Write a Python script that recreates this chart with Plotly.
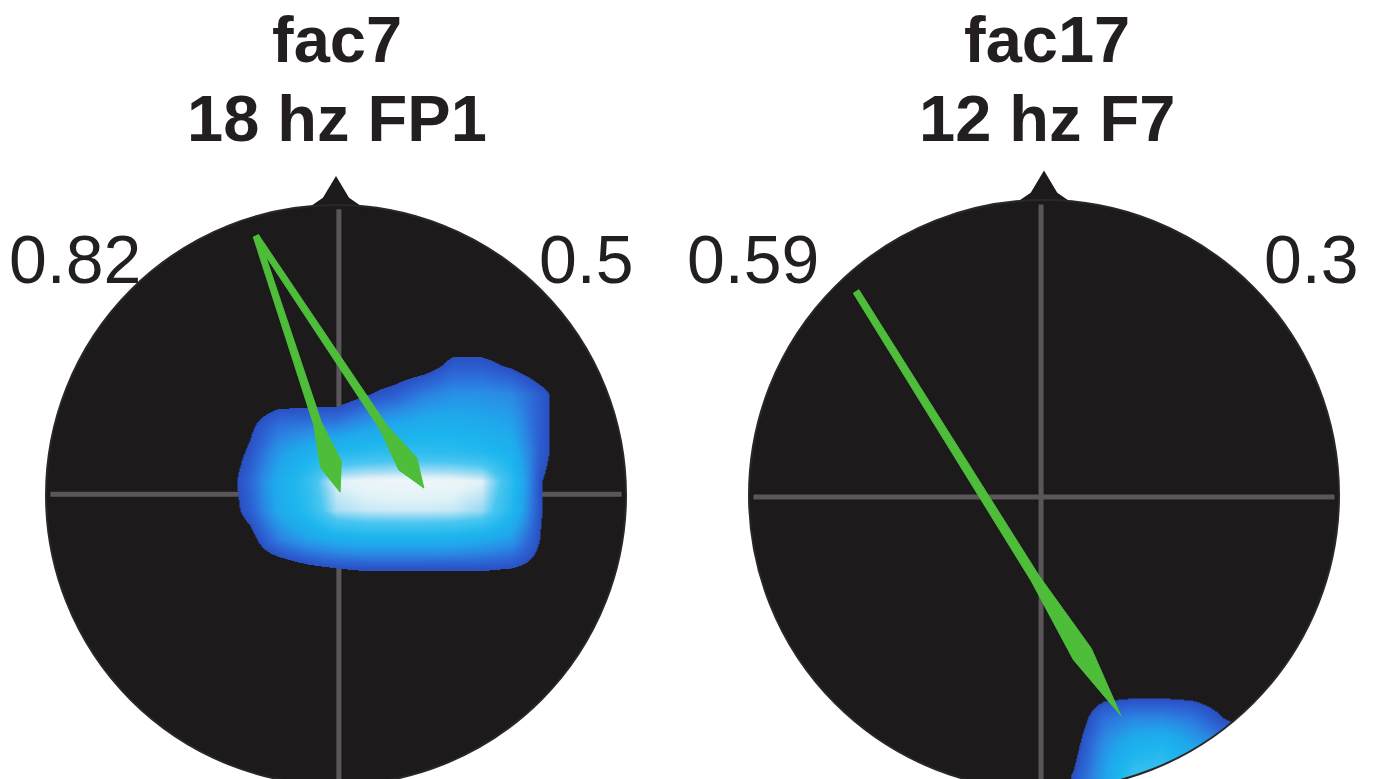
import numpy as np
import plotly.graph_objects as go

# ---------------- data ----------------
titles = ["fac7", "fac17"]
subtitles = ["18 hz FP1", "12 hz F7"]
left_values = ["0.82", "0.59"]
right_values = ["0.5", "0.3"]

# arrows, in head units (radius = 1, nose up)
fac7_arrow_x0 = [-0.276, -0.276]
fac7_arrow_y0 = [0.893, 0.893]
fac7_arrow_x1 = [0.014, 0.303]
fac7_arrow_y1 = [0.010, 0.024]

fac17_arrow_x0 = [-0.637]
fac17_arrow_y0 = [0.69]
fac17_arrow_x1 = [0.261]
fac17_arrow_y1 = [-0.749]

# topographic maps (normalised strength), head units
fac7_map_x = [-0.4, -0.3, -0.2, -0.1, 0.0, 0.1, 0.2, 0.3, 0.4, 0.5, 0.6, 0.7, 0.8]
fac7_map_y = [0.55, 0.45, 0.35, 0.25, 0.15, 0.05, -0.05, -0.15, -0.25, -0.35]
fac7_map_z = [
    [0, 0, 0, 0, 0, 0, 0, 0, 0, 0, 0, 0, 0],
    [0, 0, 0, 0, 0, 0, 0, 0.03, 0.14, 0.14, 0.08, 0, 0],
    [0, 0, 0, 0, 0, 0.09, 0.15, 0.25, 0.3, 0.3, 0.28, 0.15, 0],
    [0, 0.07, 0.2, 0.22, 0.24, 0.32, 0.38, 0.42, 0.42, 0.4, 0.36, 0.15, 0],
    [0, 0.12, 0.33, 0.44, 0.52, 0.56, 0.58, 0.58, 0.57, 0.53, 0.46, 0.15, 0],
    [0, 0.18, 0.42, 0.6, 0.92, 0.96, 0.97, 0.97, 0.96, 0.92, 0.58, 0.11, 0],
    [0, 0.15, 0.4, 0.56, 0.84, 0.88, 0.89, 0.89, 0.88, 0.82, 0.53, 0.11, 0],
    [0, 0.05, 0.25, 0.36, 0.42, 0.45, 0.45, 0.45, 0.44, 0.4, 0.34, 0.1, 0],
    [0, 0, 0, 0.06, 0.1, 0.11, 0.11, 0.11, 0.11, 0.11, 0.1, 0.05, 0],
    [0, 0, 0, 0, 0, 0, 0, 0, 0, 0, 0, 0, 0],
]

fac17_map_x = [0.0, 0.1, 0.2, 0.3, 0.4, 0.5, 0.6, 0.7, 0.8]
fac17_map_y = [-0.55, -0.65, -0.75, -0.85, -0.95, -1.05]
fac17_map_z = [
    [0, 0, 0, 0, 0, 0, 0, 0, 0],
    [0, 0, 0, 0, 0, 0, 0, 0, 0],
    [0, 0, 0.2, 0.26, 0.26, 0.22, 0.1, 0, 0],
    [0, 0.05, 0.3, 0.45, 0.5, 0.38, 0.28, 0.2, 0.2],
    [0, 0.11, 0.35, 0.62, 0.66, 0.45, 0.35, 0.3, 0.3],
    [0, 0.11, 0.35, 0.62, 0.66, 0.45, 0.35, 0.3, 0.3],
]

# ---------------- layout constants ----------------
W, H = 1374, 779
heads = [
    dict(cx=336, cy=495, r=290, dom=[0.0, 0.5], px0=0, px1=687, vline=0.01, hline=0.003),
    dict(cx=1044, cy=495, r=295, dom=[0.5, 1.0], px0=687, px1=1374, vline=-0.01, hline=-0.007),
]
HEAD = "#1c1a1b"
GRID = "#5b565a"
GREEN = "#4dbd3a"

colorscale = [
    [0.0, "rgba(28,26,27,0)"], [0.1, "rgba(28,26,27,0)"],
    [0.1, "#2a50c2"], [0.18, "#2d66d6"], [0.28, "#2a8ae4"],
    [0.38, "#1fa8ec"], [0.5, "#1db6ee"], [0.7, "#4ac6f0"], [0.84, "#a8def4"],
    [0.92, "#e2f2f7"], [1.0, "#f4f8fa"],
]

fig = go.Figure()


def arrow_poly(x0, y0, x1, y1, ws, wh, hl, wpos):
    s = np.array([x0, y0]); e = np.array([x1, y1])
    d = e - s; L = np.hypot(*d); u = d / L; n = np.array([-u[1], u[0]])
    base = e - u * hl
    wide = e - u * hl * wpos
    pts = [s + n * ws * 0.35, base + n * ws / 2, wide + n * wh / 2, e,
           wide - n * wh / 2, base - n * ws / 2, s - n * ws * 0.35]
    xs = [p[0] for p in pts] + [pts[0][0]]
    ys = [p[1] for p in pts] + [pts[0][1]]
    return xs, ys


maps = [(fac7_map_x, fac7_map_y, fac7_map_z), (fac17_map_x, fac17_map_y, fac17_map_z)]
arrows = [
    (fac7_arrow_x0, fac7_arrow_y0, fac7_arrow_x1, fac7_arrow_y1, 0.028, 0.075, 0.25, 0.4),
    (fac17_arrow_x0, fac17_arrow_y0, fac17_arrow_x1, fac17_arrow_y1, 0.032, 0.072, 0.55, 0.45),
]

shapes = []
for i, hd in enumerate(heads):
    ax = "" if i == 0 else str(i + 1)
    xr, yr = "x" + ax, "y" + ax
    shapes.append(dict(type="circle", xref=xr, yref=yr, x0=-1, x1=1, y0=-1, y1=1,
                       fillcolor=HEAD, line=dict(width=0), layer="below"))
    shapes.append(dict(type="path", xref=xr, yref=yr,
                       path="M -0.11 0.98 L -0.045 1.025 L 0 1.1 L 0.045 1.025 L 0.11 0.98 Z",
                       fillcolor=HEAD, line=dict(width=0), layer="below"))
    shapes.append(dict(type="line", xref=xr, yref=yr, x0=-0.985, x1=0.985, y0=hd["hline"], y1=hd["hline"],
                       line=dict(color=GRID, width=5), layer="below"))
    shapes.append(dict(type="line", xref=xr, yref=yr, x0=hd["vline"], x1=hd["vline"], y0=0.985, y1=-1.0,
                       line=dict(color=GRID, width=5), layer="below"))
    shapes.append(dict(type="circle", xref=xr, yref=yr, x0=-1, x1=1, y0=-1, y1=1,
                       line=dict(color="#2b2729", width=2), layer="above"))

    mx, my, mz = maps[i]
    fig.add_trace(go.Heatmap(x=mx, y=my, z=mz, zmin=0, zmax=1, colorscale=colorscale,
                             zsmooth="best", showscale=False, hoverinfo="skip",
                             xaxis=xr, yaxis=yr))
    if i == 1:
        th = np.linspace(-np.pi / 2, -np.pi / 6, 60)
        mxs = list(np.cos(th)) + [1.2, 1.2, 0.0]
        mys = list(np.sin(th)) + [-0.5, -1.2, -1.2]
        fig.add_trace(go.Scatter(x=mxs, y=mys, fill="toself", fillcolor="white", mode="none",
                                 hoverinfo="skip", showlegend=False, xaxis=xr, yaxis=yr))
    ax0, ay0, ax1, ay1, ws, wh, hl, wpos = arrows[i]
    for k in range(len(ax0)):
        xs, ys = arrow_poly(ax0[k], ay0[k], ax1[k], ay1[k], ws, wh, hl, wpos)
        fig.add_trace(go.Scatter(x=xs, y=ys, fill="toself", fillcolor=GREEN, mode="lines",
                                 line=dict(color=GREEN, width=1), hoverinfo="skip",
                                 showlegend=False, xaxis=xr, yaxis=yr))

layout = dict(width=W, height=H, margin=dict(l=0, r=0, t=0, b=0),
              paper_bgcolor="white", plot_bgcolor="rgba(0,0,0,0)", showlegend=False,
              shapes=shapes)
for i, hd in enumerate(heads):
    ax = "" if i == 0 else str(i + 1)
    r = hd["r"]
    layout["xaxis" + ax] = dict(domain=hd["dom"],
                                range=[(hd["px0"] - hd["cx"]) / r, (hd["px1"] - hd["cx"]) / r],
                                visible=False, fixedrange=True, anchor="y" + ax)
    layout["yaxis" + ax] = dict(domain=[0, 1], range=[(hd["cy"] - H) / r, hd["cy"] / r],
                                visible=False, fixedrange=True, anchor="x" + ax)
fig.update_layout(**layout)

FONT = "Liberation Sans, Arial, Helvetica, sans-serif"
title_x = [337, 1047]
value_lx = [75, 753]
value_rx = [586, 1311]
ann = []
for i in range(2):
    ann.append(dict(x=title_x[i] / W, y=1 - 40 / H, xref="paper", yref="paper",
                    text="<b>" + titles[i] + "</b>", showarrow=False,
                    font=dict(family=FONT, size=65, color="#231f20"), xanchor="center", yanchor="middle"))
    ann.append(dict(x=title_x[i] / W, y=1 - 118 / H, xref="paper", yref="paper",
                    text="<b>" + subtitles[i] + "</b>", showarrow=False,
                    font=dict(family=FONT, size=65, color="#231f20"), xanchor="center", yanchor="middle"))
    ann.append(dict(x=value_lx[i] / W, y=1 - 259 / H, xref="paper", yref="paper",
                    text=left_values[i], showarrow=False,
                    font=dict(family=FONT, size=68, color="#231f20"), xanchor="center", yanchor="middle"))
    ann.append(dict(x=value_rx[i] / W, y=1 - 259 / H, xref="paper", yref="paper",
                    text=right_values[i], showarrow=False,
                    font=dict(family=FONT, size=68, color="#231f20"), xanchor="center", yanchor="middle"))
fig.update_layout(annotations=ann)

fig.write_html("out.html", config={"displayModeBar": False},
               post_script="document.body.style.margin='0';")
